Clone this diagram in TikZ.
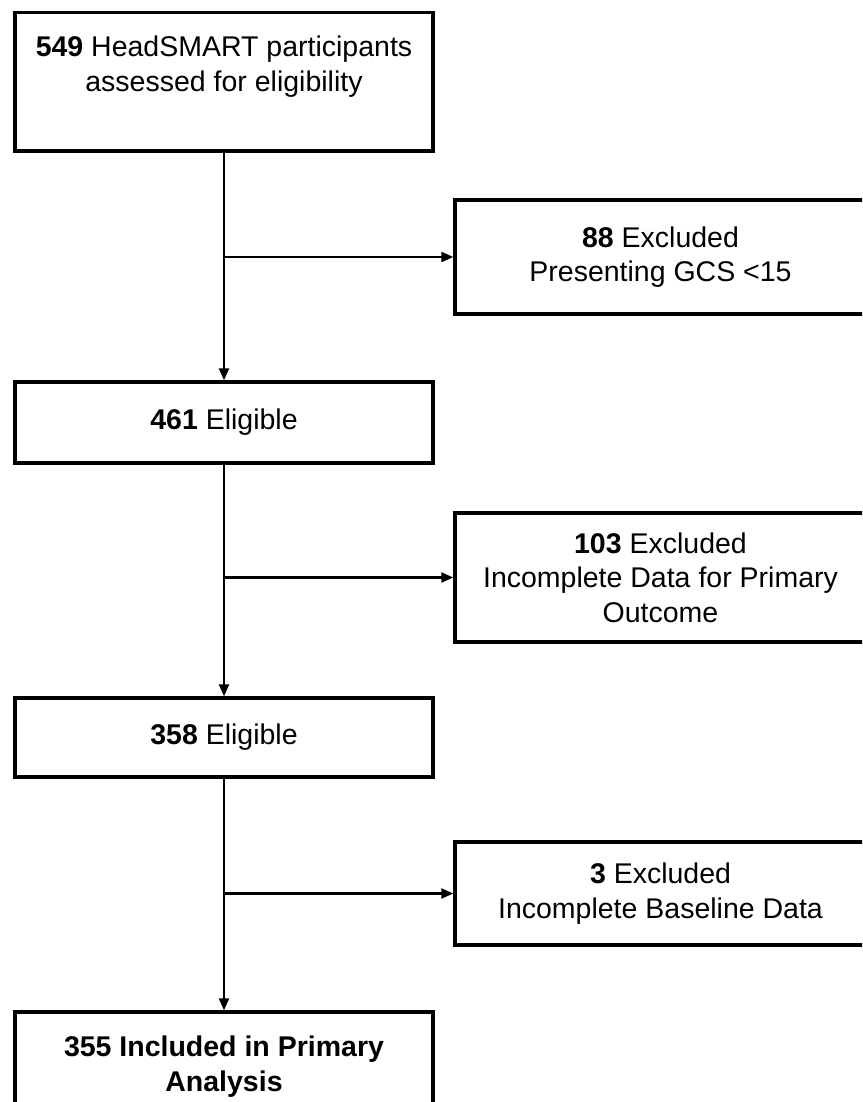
\documentclass[tikz,border=0pt]{standalone}
\usepackage{fontspec}
\setmainfont{Liberation Sans}
\usetikzlibrary{arrows.meta}
\begin{document}
\begin{tikzpicture}[x=1pt,y=-1pt,
  box/.style={draw=black, line width=3.4pt, rectangle, minimum width=418pt, inner sep=0pt, align=center, font=\fontsize{28.5}{34.5}\selectfont},
  rbox/.style={box, minimum width=411pt},
  txt/.style={inner sep=0pt, align=center, font=\fontsize{28.5}{34.5}\selectfont},
  arr/.style={line width=2.3pt, -{Triangle[length=12pt,width=10pt]}},
  ln/.style={line width=2.3pt}]
\useasboundingbox (0,0) rectangle (862,1102);
\clip (0,0) rectangle (862,1102);
\fill[white] (0,0) rectangle (862,1102);
% left column
\node[box, minimum height=138.5pt] (b1) at (224,81.75) {};
\node[txt] (t1) at (224,66.5) {\textbf{549} HeadSMART participants\\assessed for eligibility};
\node[box, minimum height=81pt] (b2) at (224,422.5) {\textbf{461} Eligible};
\node[box, minimum height=79pt] (b3) at (224,737.5) {\textbf{358} Eligible};
\node[box, minimum height=109pt] (b4) at (224,1066.5) {\textbf{355 Included in Primary}\\\textbf{Analysis}};
% right column
\node[rbox, minimum height=114pt] (r1) at (660.5,257) {\textbf{88} Excluded\\Presenting GCS <15};
\node[rbox, minimum height=129pt] (r2) at (660.5,577.5) {\textbf{103} Excluded\\Incomplete Data for Primary\\Outcome};
\node[rbox, minimum height=103pt] (r3) at (660.5,893.5) {\textbf{3} Excluded\\Incomplete Baseline Data};
% connectors
\draw[arr] (b1.south) -- (b2.north);
\draw[arr] (b2.south) -- (b3.north);
\draw[arr] (b3.south) -- (b4.north);
\draw[arr] (b1.south |- r1.west) -- (r1.west);
\draw[arr] (b2.south |- r2.west) -- (r2.west);
\draw[arr] (b3.south |- r3.west) -- (r3.west);
\end{tikzpicture}
\end{document}
